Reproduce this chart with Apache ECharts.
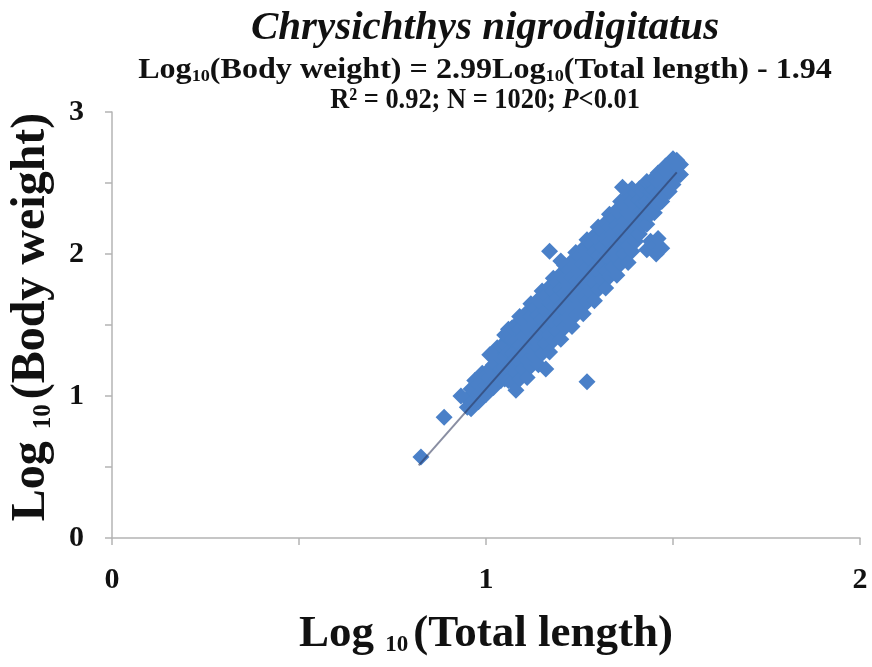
<!DOCTYPE html>
<html>
<head>
<meta charset="utf-8">
<script src="https://cdn.jsdelivr.net/npm/echarts@6/dist/echarts.min.js"></script>
<style>
html,body{margin:0;padding:0;background:#fff;}
#chart{width:872px;height:667px;}
</style>
</head>
<body>
<div id="chart"></div>
<script>
// ---- data (log10 total length, log10 body weight) ----
const bandPoints = [
  [0.95,0.92],[0.95,0.98],
  [0.96,0.91],[0.96,0.99],[0.96,1.05],
  [0.97,0.96],[0.97,1.04],[0.97,1.11],
  [0.98,0.96],[0.98,1.02],[0.98,1.09],
  [0.99,1.02],[0.99,1.10],[0.99,1.16],
  [1.00,1.01],[1.00,1.08],[1.00,1.15],
  [1.01,1.06],[1.01,1.13],[1.01,1.19],
  [1.02,1.06],[1.02,1.14],[1.02,1.22],
  [1.03,1.12],[1.03,1.21],[1.03,1.29],[1.03,1.34],
  [1.04,1.11],[1.04,1.19],[1.04,1.27],[1.04,1.35],
  [1.05,1.12],[1.05,1.20],[1.05,1.28],[1.05,1.36],[1.05,1.43],
  [1.06,1.11],[1.06,1.21],[1.06,1.31],[1.06,1.41],[1.06,1.47],
  [1.07,1.10],[1.07,1.20],[1.07,1.30],[1.07,1.40],[1.07,1.48],
  [1.08,1.04],[1.08,1.16],[1.08,1.27],[1.08,1.39],[1.08,1.50],
  [1.09,1.12],[1.09,1.25],[1.09,1.36],[1.09,1.47],[1.09,1.56],
  [1.10,1.19],[1.10,1.31],[1.10,1.42],[1.10,1.53],
  [1.11,1.13],[1.11,1.25],[1.11,1.36],[1.11,1.48],[1.11,1.59],
  [1.12,1.21],[1.12,1.34],[1.12,1.45],[1.12,1.56],[1.12,1.65],
  [1.13,1.28],[1.13,1.40],[1.13,1.51],[1.13,1.62],
  [1.14,1.22],[1.14,1.34],[1.14,1.45],[1.14,1.57],[1.14,1.68],
  [1.15,1.30],[1.15,1.43],[1.15,1.54],[1.15,1.65],[1.15,1.74],
  [1.16,1.37],[1.16,1.49],[1.16,1.60],[1.16,1.71],
  [1.17,1.31],[1.17,1.43],[1.17,1.54],[1.17,1.66],[1.17,1.77],
  [1.18,1.39],[1.18,1.52],[1.18,1.63],[1.18,1.74],[1.18,1.83],
  [1.19,1.46],[1.19,1.58],[1.19,1.69],[1.19,1.80],
  [1.20,1.40],[1.20,1.52],[1.20,1.63],[1.20,1.75],[1.20,1.86],
  [1.21,1.48],[1.21,1.61],[1.21,1.72],[1.21,1.83],[1.21,1.92],
  [1.22,1.55],[1.22,1.67],[1.22,1.78],[1.22,1.89],
  [1.23,1.49],[1.23,1.61],[1.23,1.72],[1.23,1.84],[1.23,1.95],
  [1.24,1.57],[1.24,1.70],[1.24,1.81],[1.24,1.92],[1.24,2.01],
  [1.25,1.64],[1.25,1.76],[1.25,1.87],[1.25,1.98],
  [1.26,1.58],[1.26,1.70],[1.26,1.81],[1.26,1.93],[1.26,2.04],
  [1.27,1.66],[1.27,1.79],[1.27,1.90],[1.27,2.01],[1.27,2.10],
  [1.28,1.73],[1.28,1.85],[1.28,1.96],[1.28,2.07],
  [1.29,1.67],[1.29,1.79],[1.29,1.90],[1.29,2.02],[1.29,2.13],
  [1.30,1.75],[1.30,1.88],[1.30,1.99],[1.30,2.10],[1.30,2.19],
  [1.31,1.82],[1.31,1.94],[1.31,2.05],[1.31,2.16],
  [1.32,1.76],[1.32,1.88],[1.32,1.99],[1.32,2.11],[1.32,2.22],
  [1.33,1.84],[1.33,1.97],[1.33,2.08],[1.33,2.19],[1.33,2.28],
  [1.34,1.91],[1.34,2.03],[1.34,2.14],[1.34,2.25],
  [1.35,1.85],[1.35,1.97],[1.35,2.08],[1.35,2.20],[1.35,2.31],
  [1.36,1.93],[1.36,2.06],[1.36,2.17],[1.36,2.28],[1.36,2.37],
  [1.37,2.00],[1.37,2.12],[1.37,2.23],[1.37,2.34],
  [1.38,1.94],[1.38,2.06],[1.38,2.17],[1.38,2.29],[1.38,2.40],
  [1.39,2.02],[1.39,2.15],[1.39,2.26],[1.39,2.37],[1.39,2.46],
  [1.40,2.09],[1.40,2.21],[1.40,2.32],[1.40,2.43],
  [1.41,2.14],[1.41,2.22],[1.41,2.30],[1.41,2.38],[1.41,2.46],
  [1.42,2.20],[1.42,2.28],[1.42,2.36],[1.42,2.44],
  [1.43,2.21],[1.43,2.29],[1.43,2.37],[1.43,2.45],[1.43,2.51],
  [1.44,2.28],[1.44,2.36],[1.44,2.44],[1.44,2.51],
  [1.45,2.29],[1.45,2.37],[1.45,2.45],[1.45,2.53],
  [1.46,2.35],[1.46,2.43],[1.46,2.51],[1.46,2.57],
  [1.47,2.37],[1.47,2.44],[1.47,2.52],[1.47,2.58],
  [1.48,2.42],[1.48,2.50],[1.48,2.58],[1.48,2.62],
  [1.49,2.44],[1.49,2.52],[1.49,2.59],[1.49,2.63],
  [1.50,2.49],[1.50,2.57],[1.50,2.64],[1.50,2.67],
  [1.51,2.54],[1.51,2.62],[1.51,2.66],
  [1.52,2.56],[1.52,2.63]
];
const outlierPoints = [
  [0.826,0.57],[0.888,0.85],[0.933,1.00],[1.01,1.29],[1.16,1.19],[1.17,2.02],[1.20,1.95],
  [1.27,1.10],[1.365,2.47],[1.43,2.03],[1.44,2.09],[1.45,2.06],[1.455,2.00],[1.46,2.11],[1.47,2.04]
];
// fitted line: Log10(W) = 2.99 Log10(TL) - 1.94
const trendX = [0.82, 1.51];
const trendY = [0.5118, 2.5749];
const xTickLabels = ['0', '1', '2'];
const yTickLabels = ['0', '1', '2', '3'];
const titleText = 'Chrysichthys nigrodigitatus';
const equationText = '{a|Log}{s|10}{a|(Body weight) = 2.99Log}{s|10}{a|(Total length) - 1.94}';
const statsText = '{a|R² = 0.92; N = 1020; }{i|P}{a|<0.01}';

const FONT = '"Liberation Serif", "Times New Roman", serif';
const chart = echarts.init(document.getElementById('chart'));
const axisGrey = '#b4b4b4';

function tickFmt(labels) {
  return function (v) {
    const r = Math.round(v);
    if (Math.abs(v - r) < 1e-6 && labels[r] !== undefined) return labels[r];
    return '';
  };
}

chart.setOption({
  backgroundColor: '#ffffff',
  animation: false,
  grid: { left: 110, right: 12, top: 112, bottom: 129, containLabel: false },
  xAxis: {
    type: 'value', min: 0, max: 2, interval: 0.5,
    axisLine: { show: true, lineStyle: { color: axisGrey, width: 1.5 } },
    axisTick: { show: true, length: 7, lineStyle: { color: axisGrey, width: 1.5 } },
    splitLine: { show: false },
    axisLabel: { formatter: tickFmt(xTickLabels), fontFamily: FONT, fontWeight: 'bold', fontSize: 30, color: '#111', margin: 27 },
    name: 'Log {s|10}(Total length)',
    nameLocation: 'middle', nameGap: 74,
    nameTextStyle: {
      fontFamily: FONT, fontWeight: 'bold', fontSize: 45, color: '#111',
      rich: { s: { fontFamily: FONT, fontWeight: 'bold', fontSize: 23, color: '#111', verticalAlign: 'bottom', padding: [0, 5, 0, 0] } }
    }
  },
  yAxis: {
    type: 'value', min: 0, max: 3, interval: 0.5,
    axisLine: { show: true, lineStyle: { color: axisGrey, width: 1.5 } },
    axisTick: { show: true, length: 7, lineStyle: { color: axisGrey, width: 1.5 } },
    splitLine: { show: false },
    axisLabel: { formatter: tickFmt(yTickLabels), fontFamily: FONT, fontWeight: 'bold', fontSize: 30, color: '#111', margin: 28 },
    name: 'Log {s|10}(Body weight)',
    nameLocation: 'middle', nameGap: 56,
    nameTextStyle: {
      fontFamily: FONT, fontWeight: 'bold', fontSize: 48, color: '#111', padding: [0, 0, 0, 16],
      rich: { s: { fontFamily: FONT, fontWeight: 'bold', fontSize: 25, color: '#111', verticalAlign: 'bottom', padding: [0, 5, 0, 0] } }
    }
  },
  graphic: [
    { type: 'text', x: 485, y: 28, z: 10,
      style: { text: titleText, fontFamily: FONT, fontWeight: 'bold', fontStyle: 'italic', fontSize: 41, fill: '#111', align: 'center', verticalAlign: 'middle' } },
    { type: 'text', x: 485, y: 70, z: 10, scaleX: 1.07,
      style: { text: equationText, align: 'center', verticalAlign: 'middle', fill: '#111',
        rich: {
          a: { fontFamily: FONT, fontWeight: 'bold', fontSize: 30, fill: '#111' },
          s: { fontFamily: FONT, fontWeight: 'bold', fontSize: 17, fill: '#111', verticalAlign: 'bottom' }
        } } },
    { type: 'text', x: 485, y: 100, z: 10, scaleX: 0.88,
      style: { text: statsText, align: 'center', verticalAlign: 'middle', fill: '#111',
        rich: {
          a: { fontFamily: FONT, fontWeight: 'bold', fontSize: 30, fill: '#111' },
          i: { fontFamily: FONT, fontWeight: 'bold', fontStyle: 'italic', fontSize: 30, fill: '#111' }
        } } }
  ],
  series: [
    {
      type: 'scatter', symbol: 'diamond', symbolSize: 17,
      itemStyle: { color: '#4a80c8', opacity: 1 },
      data: bandPoints.concat(outlierPoints), z: 2
    },
    {
      type: 'line', symbol: 'none', silent: true, z: 3,
      lineStyle: { color: 'rgba(40,50,85,0.55)', width: 2 },
      data: trendX.map((x, i) => [x, trendY[i]])
    }
  ]
});
</script>
</body>
</html>
